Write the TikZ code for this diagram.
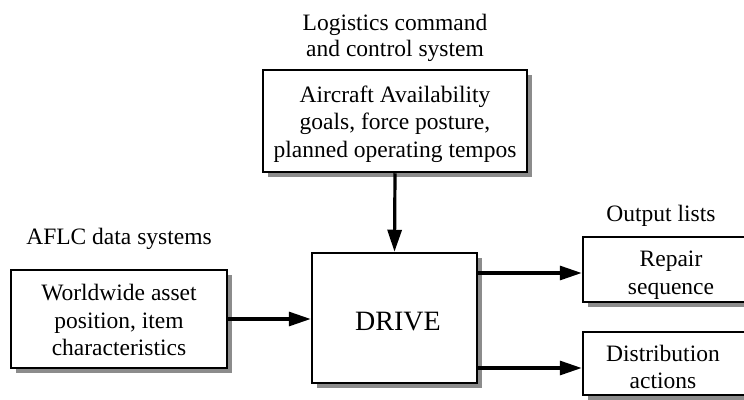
\documentclass[tikz,border=0pt]{standalone}
\usepackage{fontspec}
\setmainfont{Liberation Serif}
\usetikzlibrary{arrows.meta,shadows}
\begin{document}
\begin{tikzpicture}[x=1pt,y=-1pt,
  txt/.style={font=\fontsize{23.5}{27.5}\selectfont, align=center, inner sep=0pt},
  boxshape/.style={draw=black, line width=2.5pt, fill=white, rectangle, inner sep=0pt,
    drop shadow={shadow xshift=5pt, shadow yshift=-5pt, fill=black!45, opacity=1}},
  flow/.style={line width=3.2pt, -{Triangle[length=22pt,width=14pt]}}
]
\useasboundingbox (0,0) rectangle (744,399);
\clip (0,0) rectangle (744,399);

% labels above boxes
\node[txt, font=\fontsize{23.5}{26}\selectfont] (lcc) at (395,38) {Logistics command\\and control system};
\node[txt] (aflc) at (119,239) {AFLC data systems};
\node[txt] (outl) at (661,216) {Output lists};

% boxes
\node[boxshape, minimum width=264pt, minimum height=102pt] (top) at (395,121) {};
\node[txt] (toptxt) at (395,124) {Aircraft Availability\\goals, force posture,\\planned operating tempos};

\node[boxshape, minimum width=216pt, minimum height=98pt] (left) at (119,319) {};
\node[txt] (lefttxt) at (119,320) {Worldwide asset\\position, item\\characteristics};

\node[boxshape, minimum width=165pt, minimum height=130pt] (drive) at (394.5,318) {};
\node[txt, font=\fontsize{28}{32}\selectfont] (drivetxt) at (398,322) {DRIVE};

\node[boxshape, minimum width=177pt, minimum height=65pt] (repair) at (671.5,269.5) {};
\node[txt] (repairtxt) at (671,275) {Repair\\sequence};

\node[boxshape, minimum width=177pt, minimum height=63pt] (dist) at (671.5,363.5) {};
\node[txt] (disttxt) at (663,367) {Distribution\\actions};

% connectors
\coordinate (o1) at (480,273);
\coordinate (o2) at (480,368);
\draw[flow] (top.south) -- (drive.north);
\draw[flow] (left.east) -- (left.east -| drive.west);
\draw[flow] (o1 -| drive.east) -- (o1 -| repair.west);
\draw[flow] (o2 -| drive.east) -- (o2 -| dist.west);
\end{tikzpicture}
\end{document}
